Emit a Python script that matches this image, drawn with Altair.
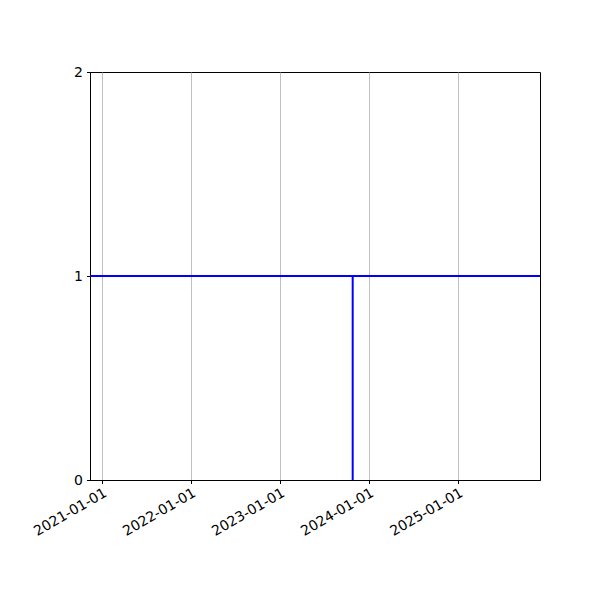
import altair as alt
import pandas as pd

dates = ["2020-11-14", "2023-10-27", "2023-10-27", "2023-10-27", "2025-12-03"]
levels = [1, 1, 0, 1, 1]
order = [0, 1, 2, 3, 4]
x_domain = ["2020-11-14", "2025-12-03"]
tick_dates = ["2021-01-01", "2022-01-01", "2023-01-01", "2024-01-01", "2025-01-01"]
y_ticks = [0, 1, 2]

df = pd.DataFrame({"date": dates, "level": levels, "order": order})

font = "DejaVu Sans"

chart = alt.Chart(df).mark_line(color="blue", strokeWidth=2, clip=True).encode(
    x=alt.X("date:T",
            scale=alt.Scale(domain=x_domain),
            axis=alt.Axis(values=tick_dates, format="%Y-%m-%d", title=None,
                          labelAngle=-30, labelAlign="right", labelBaseline="top",
                          grid=True, gridColor="#b0b0b0", gridWidth=0.8,
                          tickColor="black", tickSize=3.5, domainColor="black",
                          labelFont=font, labelFontSize=14, labelColor="black",
                          labelPadding=2, labelOverlap=False, labelFlush=False)),
    y=alt.Y("level:Q",
            scale=alt.Scale(domain=[0, 2], nice=False),
            axis=alt.Axis(values=y_ticks, title=None, grid=False,
                          labelExpr="format(datum.value, '.0f')",
                          tickColor="black", tickSize=3.5, domainColor="black",
                          labelFont=font, labelFontSize=14, labelColor="black",
                          labelPadding=4, labelOverlap=False, labelFlush=False,
                          labelBound=False)),
    order="order:Q",
).properties(
    width=450, height=408,
    autosize=alt.AutoSizeParams(type="none"),
    padding={"left": 82, "top": 64, "right": 50, "bottom": 100},
).configure(background="white").configure_view(stroke="black", strokeWidth=1)

chart.save("out.html", embed_options={"renderer": "svg", "actions": False})
